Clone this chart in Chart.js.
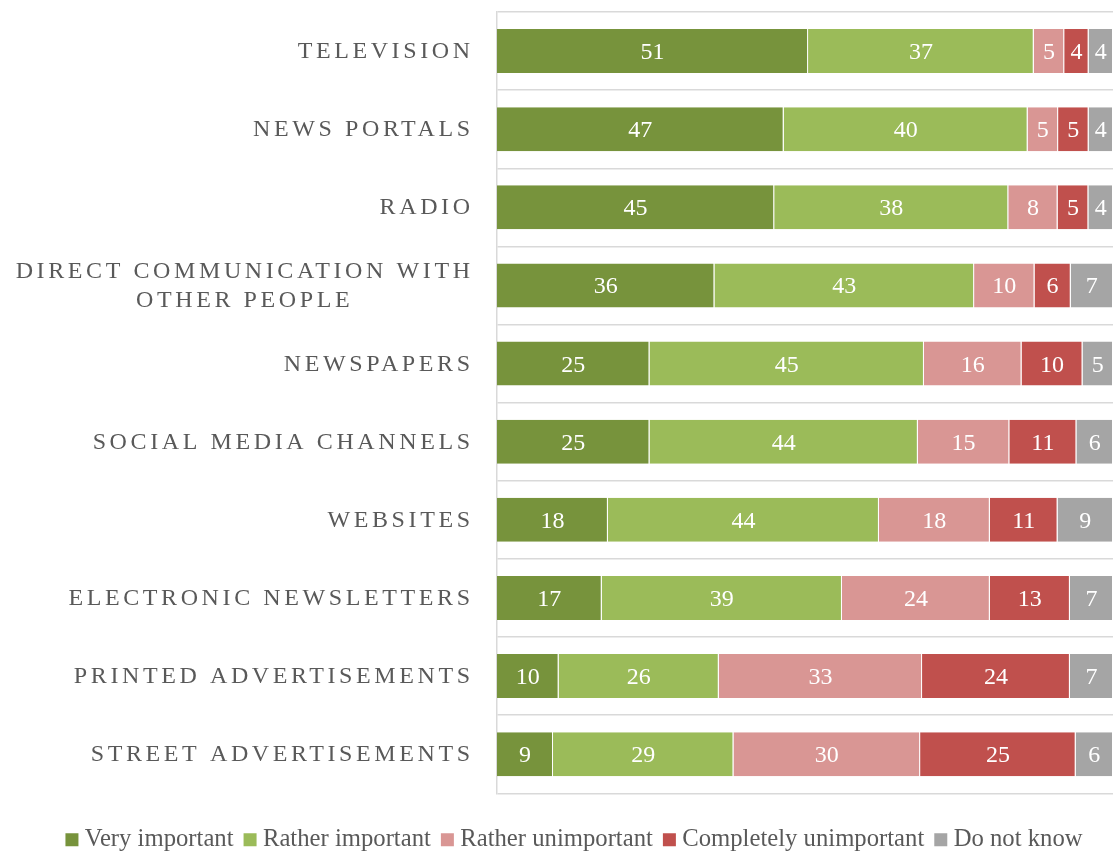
<!DOCTYPE html>
<html>
<head>
<meta charset="utf-8">
<script src="https://cdn.jsdelivr.net/npm/chart.js@4.4.1/dist/chart.umd.min.js"></script>
<style>
  html, body { margin: 0; padding: 0; background: #fff; overflow: hidden; }
  #wrap { width: 1113px; height: 853px; overflow: hidden; }
</style>
</head>
<body>
<div id="wrap"><canvas id="chart" width="1113" height="870"></canvas></div>
<script>
// categories, top to bottom (multi-line labels as arrays)
const categories = [
  ['TELEVISION'],
  ['NEWS PORTALS'],
  ['RADIO'],
  ['DIRECT COMMUNICATION WITH', 'OTHER PEOPLE'],
  ['NEWSPAPERS'],
  ['SOCIAL MEDIA CHANNELS'],
  ['WEBSITES'],
  ['ELECTRONIC NEWSLETTERS'],
  ['PRINTED ADVERTISEMENTS'],
  ['STREET ADVERTISEMENTS'],
];

const seriesNames = ['Very important', 'Rather important', 'Rather unimportant', 'Completely unimportant', 'Do not know'];

const veryImportant         = [51, 47, 45, 36, 25, 25, 18, 17, 10, 9];
const ratherImportant       = [37, 40, 38, 43, 45, 44, 44, 39, 26, 29];
const ratherUnimportant     = [5, 5, 8, 10, 16, 15, 18, 24, 33, 30];
const completelyUnimportant = [4, 5, 5, 6, 10, 11, 11, 13, 24, 25];
const doNotKnow             = [4, 4, 4, 7, 5, 6, 9, 7, 7, 6];

const seriesColors = ['#77933C', '#9BBB59', '#D99694', '#C0504D', '#A5A5A5'];

const allSeries = [veryImportant, ratherImportant, ratherUnimportant, completelyUnimportant, doNotKnow];
const serif = "'Liberation Serif', 'Times New Roman', serif";
const textGray = '#595959';
const lineGray = '#d9d9d9';

// 100% stacked: each row is scaled to its own total
const rowTotals = categories.map((_, i) => allSeries.reduce((s, arr) => s + arr[i], 0));

const datasets = allSeries.map((values, k) => ({
  label: seriesNames[k],
  data: values.map((v, i) => v * 100 / rowTotals[i]),
  raw: values,
  backgroundColor: seriesColors[k],
  borderColor: '#ffffff',
  borderWidth: { left: 0, right: 1, top: 0, bottom: 0 },
  borderSkipped: false,
  barPercentage: 0.563,
  categoryPercentage: 1.0,
}));

// white value labels in the middle of every segment
const valueLabels = {
  id: 'valueLabels',
  afterDatasetsDraw(chart) {
    const ctx = chart.ctx;
    ctx.save();
    ctx.font = `24px ${serif}`;
    ctx.fillStyle = '#ffffff';
    ctx.textAlign = 'center';
    ctx.textBaseline = 'alphabetic';
    chart.data.datasets.forEach((ds, k) => {
      const meta = chart.getDatasetMeta(k);
      meta.data.forEach((bar, i) => {
        const cx = (bar.x + bar.base) / 2;
        ctx.fillText(String(ds.raw[i]), cx, bar.y + 8);
      });
    });
    ctx.restore();
  },
};

// category names with letter spacing, right aligned, lines centred in block
const categoryLabels = {
  id: 'categoryLabels',
  afterDraw(chart) {
    const ctx = chart.ctx;
    const yScale = chart.scales.y;
    const ls = 3.6;
    const right = chart.chartArea.left - 27;
    ctx.save();
    ctx.font = `24px ${serif}`;
    ctx.letterSpacing = ls + 'px';
    ctx.fillStyle = textGray;
    ctx.textAlign = 'center';
    ctx.textBaseline = 'alphabetic';
    categories.forEach((lines, i) => {
      const y = yScale.getPixelForValue(i);
      const blockW = Math.max(...lines.map((l) => ctx.measureText(l).width));
      const cx = right + ls - blockW / 2;
      lines.forEach((line, n) => {
        const ly = y + (n - (lines.length - 1) / 2) * 29;
        ctx.fillText(line, cx, ly + 7);
      });
    });
    ctx.restore();
  },
};

new Chart(document.getElementById('chart'), {
  type: 'bar',
  data: {
    labels: categories,
    datasets: datasets,
  },
  plugins: [valueLabels, categoryLabels],
  options: {
    indexAxis: 'y',
    responsive: false,
    animation: false,
    devicePixelRatio: 1,
    layout: {
      padding: { top: 12, left: 41, right: 0, bottom: 8 },
    },
    scales: {
      x: {
        stacked: true,
        min: 0,
        max: 100,
        ticks: { display: false },
        grid: { display: false },
        border: { display: false },
        afterFit: (scale) => { scale.height = 18; },
      },
      y: {
        stacked: true,
        ticks: { display: false },
        grid: {
          color: lineGray,
          lineWidth: 1.5,
          drawTicks: false,
          offset: true,
        },
        border: { display: true, color: lineGray, width: 1.5 },
        afterFit: (scale) => { scale.width = 456; },
      },
    },
    plugins: {
      tooltip: { enabled: false },
      legend: {
        position: 'bottom',
        align: 'center',
        labels: {
          font: { family: serif, size: 24.7 },
          color: textGray,
          usePointStyle: true,
          pointStyle: 'rect',
          boxWidth: 1,
          boxHeight: 13,
          padding: 16,
          generateLabels: (chart) =>
            Chart.defaults.plugins.legend.labels.generateLabels(chart).map((item) => ({
              ...item,
              lineWidth: 0,
              strokeStyle: 'rgba(0,0,0,0)',
            })),
        },
      },
    },
  },
});
</script>
</body>
</html>
